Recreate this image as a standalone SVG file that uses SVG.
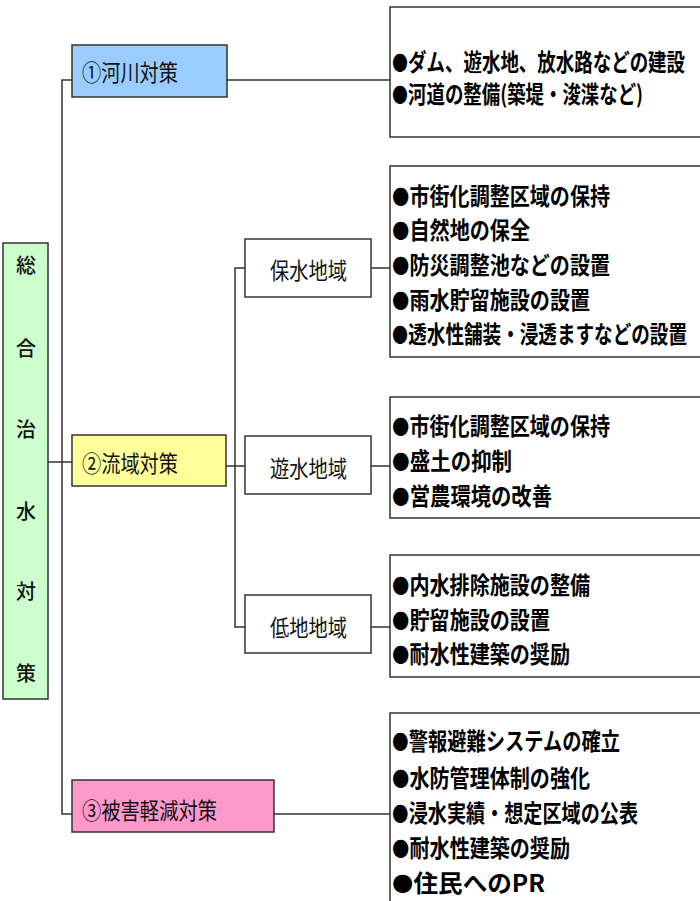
<svg xmlns="http://www.w3.org/2000/svg" width="700" height="901" viewBox="0 0 700 901">
<style>
  .box { stroke: #333; stroke-width: 1.5; }
  .wbox { fill: #fff; stroke: #333; stroke-width: 1.5; }
  .conn { fill: none; stroke: #333; stroke-width: 1.5; }
  .lbl { font-family: "Noto Sans CJK JP", "Noto Sans", sans-serif; font-size: 23px; fill: #111; dominant-baseline: central; }
  .vt { font-family: "Noto Sans CJK JP", "Noto Sans", sans-serif; font-size: 20px; font-weight: 500; fill: #111; dominant-baseline: central; text-anchor: middle; }
  .item { font-family: "Noto Sans CJK JP", "Noto Sans", sans-serif; font-size: 24px; font-weight: 700; fill: #000; dominant-baseline: central; }
  .b { font-family: "DejaVu Sans", sans-serif; }
</style>
<rect width="700" height="901" fill="#fff"/>
<g id="connectors">
  <path class="conn" d="M72 80 H62 V814 H72"/>
  <path class="conn" d="M48 462 H72"/>
  <path class="conn" d="M227 80 H390"/>
  <path class="conn" d="M226 466 H245"/>
  <path class="conn" d="M245 268 H235 V627 H245"/>
  <path class="conn" d="M371 268 H390"/>
  <path class="conn" d="M371 466 H390"/>
  <path class="conn" d="M371 627 H390"/>
  <path class="conn" d="M274 814 H390"/>
</g>
<g id="root">
  <rect class="box" x="3" y="243" width="45" height="456" fill="#ccffcc"/>
  <text class="vt" x="26" y="264">総</text>
  <text class="vt" x="26" y="347">合</text>
  <text class="vt" x="26" y="428">治</text>
  <text class="vt" x="26" y="510">水</text>
  <text class="vt" x="26" y="590">対</text>
  <text class="vt" x="26" y="672">策</text>
</g>
<g id="river">
  <rect class="box" x="72" y="45" width="155" height="52" fill="#99ccff"/>
  <text class="lbl" x="82" y="71" textLength="96" lengthAdjust="spacingAndGlyphs">①河川対策</text>
</g>
<g id="river-detail">
  <rect class="wbox" x="390" y="7" width="320" height="130"/>
  <g transform="translate(392,0) scale(0.75,1)">
    <text class="item" x="0" y="60" textLength="390.7" lengthAdjust="spacingAndGlyphs"><tspan class="b">●</tspan>ダム、遊水地、放水路などの建設</text>
    <text class="item" x="0" y="92" textLength="334.7" lengthAdjust="spacingAndGlyphs"><tspan class="b">●</tspan>河道の整備(築堤・浚渫など)</text>
  </g>
</g>
<g id="basin">
  <rect class="box" x="72" y="435" width="154" height="51" fill="#ffff99"/>
  <text class="lbl" x="82" y="462" textLength="96" lengthAdjust="spacingAndGlyphs">②流域対策</text>
</g>
<g id="retention">
  <rect class="wbox" x="245" y="239" width="126" height="58"/>
  <text class="lbl" x="270" y="269" textLength="77" lengthAdjust="spacingAndGlyphs">保水地域</text>
</g>
<g id="retention-detail">
  <rect class="wbox" x="390" y="166" width="320" height="191"/>
  <g transform="translate(392,0) scale(0.75,1)">
    <text class="item" x="0" y="194" textLength="290.7" lengthAdjust="spacingAndGlyphs"><tspan class="b">●</tspan>市街化調整区域の保持</text>
    <text class="item" x="0" y="228" textLength="184" lengthAdjust="spacingAndGlyphs"><tspan class="b">●</tspan>自然地の保全</text>
    <text class="item" x="0" y="263" textLength="290.7" lengthAdjust="spacingAndGlyphs"><tspan class="b">●</tspan>防災調整池などの設置</text>
    <text class="item" x="0" y="298" textLength="264" lengthAdjust="spacingAndGlyphs"><tspan class="b">●</tspan>雨水貯留施設の設置</text>
    <text class="item" x="0" y="332" textLength="393.3" lengthAdjust="spacingAndGlyphs"><tspan class="b">●</tspan>透水性舗装・浸透ますなどの設置</text>
  </g>
</g>
<g id="floodplain">
  <rect class="wbox" x="245" y="436" width="126" height="58"/>
  <text class="lbl" x="270" y="467" textLength="77" lengthAdjust="spacingAndGlyphs">遊水地域</text>
</g>
<g id="floodplain-detail">
  <rect class="wbox" x="390" y="397" width="320" height="121"/>
  <g transform="translate(392,0) scale(0.75,1)">
    <text class="item" x="0" y="424" textLength="290.7" lengthAdjust="spacingAndGlyphs"><tspan class="b">●</tspan>市街化調整区域の保持</text>
    <text class="item" x="0" y="459" textLength="160" lengthAdjust="spacingAndGlyphs"><tspan class="b">●</tspan>盛土の抑制</text>
    <text class="item" x="0" y="494" textLength="213.3" lengthAdjust="spacingAndGlyphs"><tspan class="b">●</tspan>営農環境の改善</text>
  </g>
</g>
<g id="lowland">
  <rect class="wbox" x="245" y="595" width="126" height="58"/>
  <text class="lbl" x="270" y="626" textLength="77" lengthAdjust="spacingAndGlyphs">低地地域</text>
</g>
<g id="lowland-detail">
  <rect class="wbox" x="390" y="555" width="320" height="122"/>
  <g transform="translate(392,0) scale(0.75,1)">
    <text class="item" x="0" y="583" textLength="264" lengthAdjust="spacingAndGlyphs"><tspan class="b">●</tspan>内水排除施設の整備</text>
    <text class="item" x="0" y="618" textLength="210.7" lengthAdjust="spacingAndGlyphs"><tspan class="b">●</tspan>貯留施設の設置</text>
    <text class="item" x="0" y="652" textLength="237.3" lengthAdjust="spacingAndGlyphs"><tspan class="b">●</tspan>耐水性建築の奨励</text>
  </g>
</g>
<g id="mitigation">
  <rect class="box" x="72" y="780" width="202" height="52" fill="#ff99cc"/>
  <text class="lbl" x="82" y="809" textLength="135" lengthAdjust="spacingAndGlyphs">③被害軽減対策</text>
</g>
<g id="mitigation-detail">
  <rect class="wbox" x="390" y="713" width="320" height="200"/>
  <g transform="translate(392,0) scale(0.75,1)">
    <text class="item" x="0" y="739" textLength="304" lengthAdjust="spacingAndGlyphs"><tspan class="b">●</tspan>警報避難システムの確立</text>
    <text class="item" x="0" y="776" textLength="264" lengthAdjust="spacingAndGlyphs"><tspan class="b">●</tspan>水防管理体制の強化</text>
    <text class="item" x="0" y="811" textLength="328" lengthAdjust="spacingAndGlyphs"><tspan class="b">●</tspan>浸水実績・想定区域の公表</text>
    <text class="item" x="0" y="846" textLength="237.3" lengthAdjust="spacingAndGlyphs"><tspan class="b">●</tspan>耐水性建築の奨励</text>
    <text class="item" x="0" y="881" textLength="204" lengthAdjust="spacingAndGlyphs"><tspan class="b">●</tspan>住民へのPR</text>
  </g>
</g>
</svg>
